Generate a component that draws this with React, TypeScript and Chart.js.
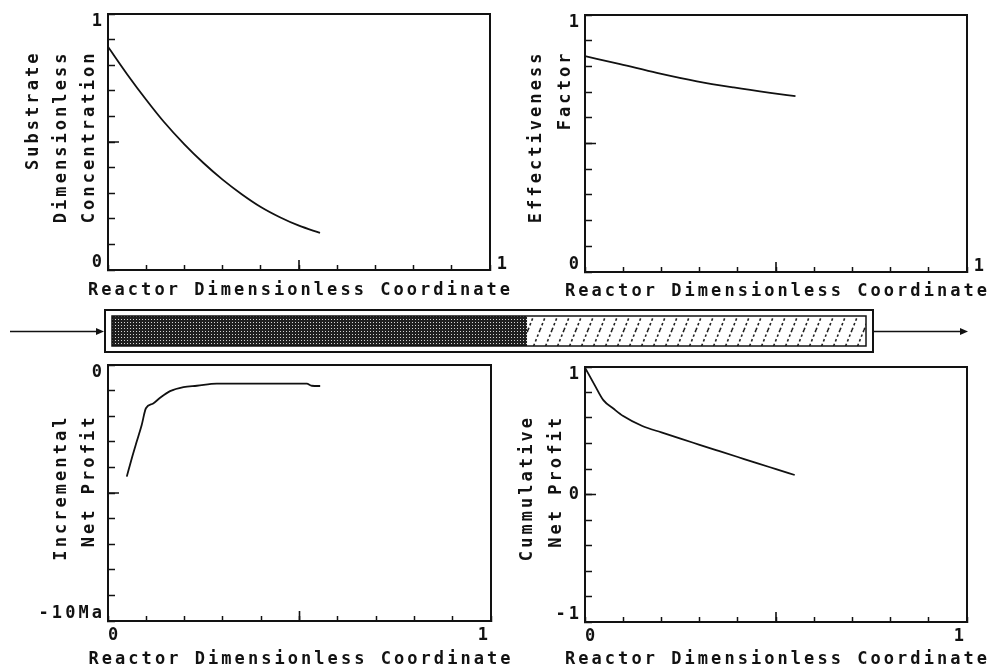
import React, { useEffect, useRef } from 'react';
import { Chart, registerables } from 'chart.js';

Chart.register(...registerables);

// ---------------- data ----------------
const xAxisTitle = 'Reactor Dimensionless Coordinate';
const xTicksTopValues = [1];
const xTicksTopLabels = ['1'];
const xTicksBottomValues = [0, 1];
const xTicksBottomLabels = ['0', '1'];

const substrateTitle = ['Substrate', 'Dimensionless', 'Concentration'];
const substrateX = [0, 0.05, 0.1, 0.145, 0.2, 0.25, 0.3, 0.35, 0.4, 0.45, 0.5, 0.555];
const substrateY = [0.872, 0.765, 0.665, 0.581, 0.491, 0.418, 0.353, 0.296, 0.246, 0.206, 0.173, 0.145];
const substrateYTickValues = [0, 1];
const substrateYTickLabels = ['0', '1'];

const effectTitle = ['Effectiveness', 'Factor'];
const effectX = [0, 0.092, 0.188, 0.293, 0.389, 0.485, 0.551];
const effectY = [0.84, 0.809, 0.775, 0.742, 0.718, 0.697, 0.684];
const effectYTickValues = [0, 1];
const effectYTickLabels = ['0', '1'];

const incTitle = ['Incremental', 'Net Profit'];
const incX = [0.049, 0.062, 0.075, 0.088, 0.099, 0.118, 0.136, 0.162, 0.197, 0.232, 0.284, 0.38, 0.519, 0.532, 0.554];
const incY = [-4.36, -3.65, -2.99, -2.34, -1.69, -1.5, -1.28, -1.02, -0.86, -0.81, -0.73, -0.73, -0.73, -0.81, -0.82];
const incYTickValues = [0, -10];
const incYTickLabels = ['0', '-10Ma'];

const cumTitle = ['Cummulative', 'Net Profit'];
const cumX = [0, 0.025, 0.048, 0.075, 0.1, 0.15, 0.2, 0.25, 0.3, 0.35, 0.4, 0.45, 0.5, 0.549];
const cumY = [0.995, 0.86, 0.74, 0.672, 0.615, 0.537, 0.487, 0.438, 0.39, 0.342, 0.294, 0.246, 0.199, 0.153];
const cumYTickValues = [1, 0, -1];
const cumYTickLabels = ['1', '0', '-1'];

const reactorSegments = ['Deactivated', 'Active'];
const reactorFractions = [0.55, 0.45];

// ---------------- style ----------------
const INK = '#121212';
const LINE = '#111111';
const FONT_FAMILY = '"DejaVu Sans Mono", "Liberation Mono", monospace';
const FONT_SIZE = 17;
const LS_PX = 3.05;
const LS = `${LS_PX}px`;

const near = (a: number, b: number) => Math.abs(a - b) < 1e-6;

const spacingPlugin = {
  id: 'spacing',
  beforeUpdate(chart: any) { chart.ctx.letterSpacing = LS; },
  beforeDraw(chart: any) { chart.ctx.letterSpacing = LS; },
};

const framePlugin = {
  id: 'frame',
  afterDraw(chart: any, _args: any, opts: any) {
    const { ctx, chartArea: a, scales } = chart;
    ctx.save();
    ctx.letterSpacing = LS;
    ctx.strokeStyle = INK;
    ctx.lineWidth = 2;
    ctx.strokeRect(a.left, a.top, a.right - a.left, a.bottom - a.top);
    ctx.lineWidth = 1.6;
    ctx.beginPath();
    const y = scales.y.getPixelForValue(opts.midY);
    ctx.moveTo(a.left, y);
    ctx.lineTo(a.left + 11, y);
    const x = scales.x.getPixelForValue(opts.midX);
    ctx.moveTo(x, a.bottom);
    ctx.lineTo(x, a.bottom - 10);
    ctx.stroke();
    ctx.font = `bold ${FONT_SIZE}px ${FONT_FAMILY}`;
    ctx.fillStyle = INK;
    ctx.textBaseline = 'middle';
    // x-axis title
    ctx.textAlign = 'center';
    ctx.fillText(opts.xTitle, (a.left + a.right) / 2 + LS_PX / 2, a.bottom + opts.xTitleDy);
    // y-axis title lines (rotated)
    ctx.textAlign = 'right';
    (opts.titleLines || []).forEach((t: string, i: number) => {
      ctx.save();
      ctx.translate(opts.titleXs[i], a.top + opts.titleTop);
      ctx.rotate(-Math.PI / 2);
      ctx.fillText(t, 0, 0);
      ctx.restore();
    });
    ctx.restore();
  },
};

function yLabeler(values: number[], labels: string[], min: number, max: number) {
  return (v: number) => {
    const i = values.findIndex((t) => near(t, v));
    if (i < 0) return '';
    const lab = labels[i];
    if (near(v, max)) return ['', lab];
    if (near(v, min)) return [lab, ''];
    return lab;
  };
}
function xLabeler(values: number[], labels: string[]) {
  return (v: number) => {
    const i = values.findIndex((t) => near(t, v));
    return i < 0 ? '' : labels[i];
  };
}

const PANELS = [
  {
    key: 'substrate', left: 0, top: 0, w: 520, h: 305,
    pad: { left: 0, top: 14, right: 30, bottom: 6 }, yW: 108, xH: 29,
    xs: substrateX, ys: substrateY, yMin: 0, yMax: 1, yStep: 0.1, midY: 0.5,
    yTickValues: substrateYTickValues, yTickLabels: substrateYTickLabels,
    xTickValues: xTicksTopValues, xTickLabels: xTicksTopLabels,
    xMirror: true, xTickPad: -3.5, xLabelOffset: 13.5, xAlign: 'center', xTitleDy: 21,
    title: substrateTitle, titleXs: [34, 62, 90], titleTop: 36.5,
  },
  {
    key: 'effect', left: 500, top: 0, w: 489, h: 305,
    pad: { left: 0, top: 15, right: 22, bottom: 5 }, yW: 85, xH: 28,
    xs: effectX, ys: effectY, yMin: 0, yMax: 1, yStep: 0.1, midY: 0.5,
    yTickValues: effectYTickValues, yTickLabels: effectYTickLabels,
    xTickValues: xTicksTopValues, xTickLabels: xTicksTopLabels,
    xMirror: true, xTickPad: -3.5, xLabelOffset: 13.5, xAlign: 'center', xTitleDy: 20,
    title: effectTitle, titleXs: [37, 66], titleTop: 35.5,
  },
  {
    key: 'inc', left: 0, top: 360, w: 520, h: 309,
    pad: { left: 0, top: 5, right: 29, bottom: 1 }, yW: 108, xH: 47,
    xs: incX, ys: incY, yMin: -10, yMax: 0, yStep: 1, midY: -5,
    yTickValues: incYTickValues, yTickLabels: incYTickLabels,
    xTickValues: xTicksBottomValues, xTickLabels: xTicksBottomLabels,
    xMirror: false, xTickPad: 11.5, xLabelOffset: 0, xAlign: 'inner', xTitleDy: 39,
    title: incTitle, titleXs: [62, 90], titleTop: 49.5,
  },
  {
    key: 'cum', left: 500, top: 360, w: 489, h: 309,
    pad: { left: 0, top: 7, right: 22, bottom: 1 }, yW: 85, xH: 46,
    xs: cumX, ys: cumY, yMin: -1, yMax: 1, yStep: 0.2, midY: 0,
    yTickValues: cumYTickValues, yTickLabels: cumYTickLabels,
    xTickValues: xTicksBottomValues, xTickLabels: xTicksBottomLabels,
    xMirror: false, xTickPad: 11.5, xLabelOffset: 0, xAlign: 'inner', xTitleDy: 38,
    title: cumTitle, titleXs: [28, 57], titleTop: 48,
  },
];

function makePanelConfig(p: any): any {
  const tickFont = { family: FONT_FAMILY, size: FONT_SIZE, weight: 'bold', lineHeight: 1 };
  return {
    type: 'line',
    data: {
      datasets: [
        {
          data: p.xs.map((x: number, i: number) => ({ x, y: p.ys[i] })),
          borderColor: LINE,
          borderWidth: 1.8,
          pointRadius: 0,
          fill: false,
          cubicInterpolationMode: 'monotone',
        },
      ],
    },
    options: {
      responsive: false,
      animation: false,
      devicePixelRatio: 1,
      events: [],
      layout: { padding: p.pad },
      plugins: {
        legend: { display: false },
        tooltip: { enabled: false },
        frame: {
          midX: 0.5, midY: p.midY, titleLines: p.title, titleXs: p.titleXs, titleTop: p.titleTop,
          xTitle: xAxisTitle, xTitleDy: p.xTitleDy,
        },
      },
      scales: {
        x: {
          type: 'linear', min: 0, max: 1, position: 'bottom',
          ticks: {
            stepSize: 0.1, autoSkip: false, maxRotation: 0, minRotation: 0, mirror: p.xMirror,
            color: INK, font: tickFont, padding: p.xTickPad, labelOffset: p.xLabelOffset,
            align: p.xAlign, callback: xLabeler(p.xTickValues, p.xTickLabels),
          },
          grid: { display: true, drawOnChartArea: false, drawTicks: true, tickLength: -5, tickColor: INK, tickWidth: 1.5, color: INK },
          border: { display: true, color: INK, width: 2 },
          afterFit: (s: any) => { s.height = p.xH; s.paddingLeft = 0; s.paddingRight = 0; },
        },
        y: {
          type: 'linear', min: p.yMin, max: p.yMax, position: 'left',
          ticks: {
            stepSize: p.yStep, autoSkip: false, color: INK, padding: 10,
            font: { family: FONT_FAMILY, size: FONT_SIZE, weight: 'bold', lineHeight: 0.85 },
            callback: yLabeler(p.yTickValues, p.yTickLabels, p.yMin, p.yMax),
          },
          grid: { display: true, drawOnChartArea: false, drawTicks: true, tickLength: -7, tickColor: INK, tickWidth: 1.5, color: INK },
          border: { display: true, color: INK, width: 2 },
          afterFit: (s: any) => { s.width = p.yW; s.paddingTop = 0; s.paddingBottom = 0; },
        },
      },
    },
    plugins: [spacingPlugin, framePlugin],
  };
}

function dotPattern(ctx: CanvasRenderingContext2D) {
  const c = document.createElement('canvas');
  c.width = 3; c.height = 3;
  const g = c.getContext('2d')!;
  g.fillStyle = '#1f1f1f';
  g.fillRect(0, 0, 3, 3);
  g.fillStyle = '#d4d4d4';
  g.fillRect(1, 1, 1, 1);
  return ctx.createPattern(c, 'repeat');
}

function hatchPattern(ctx: CanvasRenderingContext2D) {
  const w = 12, h = 30;
  const c = document.createElement('canvas');
  c.width = w; c.height = h;
  const g = c.getContext('2d')!;
  g.fillStyle = '#ffffff';
  g.fillRect(0, 0, w, h);
  g.strokeStyle = '#222222';
  g.lineWidth = 1.6;
  g.setLineDash([2.5, 2.5]);
  g.beginPath();
  for (const dx of [-w, 0, w]) {
    g.moveTo(dx, h);
    g.lineTo(dx + w, 0);
  }
  g.stroke();
  return ctx.createPattern(c, 'repeat');
}

const reactorFrame = {
  id: 'reactorFrame',
  afterDraw(chart: any) {
    const { ctx, chartArea: a } = chart;
    ctx.save();
    ctx.strokeStyle = INK;
    ctx.fillStyle = INK;
    ctx.lineWidth = 1.5;
    ctx.strokeRect(a.left, a.top, a.right - a.left, a.bottom - a.top);
    const ox = 7, oy = 6;
    const L = a.left - ox, R = a.right + ox;
    ctx.lineWidth = 2;
    ctx.strokeRect(L, a.top - oy, R - L, a.bottom - a.top + 2 * oy);
    const my = Math.round((a.top + a.bottom) / 2) + 0.5;
    ctx.lineWidth = 1.5;
    ctx.beginPath();
    ctx.moveTo(10, my); ctx.lineTo(L - 6, my);
    ctx.moveTo(R, my); ctx.lineTo(R + 89, my);
    ctx.stroke();
    const head = (tip: number) => {
      ctx.beginPath();
      ctx.moveTo(tip, my);
      ctx.lineTo(tip - 8, my - 3.5);
      ctx.lineTo(tip - 8, my + 3.5);
      ctx.closePath();
      ctx.fill();
    };
    head(L - 1);
    head(R + 95);
    ctx.restore();
  },
};

function makeReactorConfig(canvas: HTMLCanvasElement): any {
  const ctx = canvas.getContext('2d')!;
  const fills = [dotPattern(ctx), hatchPattern(ctx)];
  return {
    type: 'bar',
    data: {
      labels: ['Reactor'],
      datasets: reactorSegments.map((name, i) => ({
        label: name,
        data: [reactorFractions[i]],
        backgroundColor: fills[i],
        borderWidth: 0,
        barPercentage: 1,
        categoryPercentage: 1,
      })),
    },
    options: {
      indexAxis: 'y',
      responsive: false,
      animation: false,
      devicePixelRatio: 1,
      events: [],
      layout: { padding: { left: 112, right: 123, top: 16, bottom: 16 } },
      plugins: { legend: { display: false }, tooltip: { enabled: false } },
      scales: {
        x: { stacked: true, min: 0, max: 1, display: false },
        y: { stacked: true, display: false },
      },
    },
    plugins: [reactorFrame],
  };
}

export default function App() {
  const r0 = useRef<HTMLCanvasElement>(null);
  const r1 = useRef<HTMLCanvasElement>(null);
  const r2 = useRef<HTMLCanvasElement>(null);
  const r3 = useRef<HTMLCanvasElement>(null);
  const rr = useRef<HTMLCanvasElement>(null);
  const refs = [r0, r1, r2, r3];

  useEffect(() => {
    const charts: Chart[] = [];
    PANELS.forEach((p, i) => {
      charts.push(new Chart(refs[i].current!, makePanelConfig(p)));
    });
    charts.push(new Chart(rr.current!, makeReactorConfig(rr.current!)));
    return () => charts.forEach((c) => c.destroy());
  }, []);

  return (
    <div style={{ position: 'absolute', left: 0, top: 0, width: 989, height: 669, background: '#ffffff', overflow: 'hidden' }}>
      {PANELS.map((p, i) => (
        <canvas
          key={p.key}
          ref={refs[i]}
          width={p.w}
          height={p.h}
          style={{ position: 'absolute', left: p.left, top: p.top, width: p.w, height: p.h }}
        />
      ))}
      <canvas ref={rr} width={989} height={62} style={{ position: 'absolute', left: 0, top: 300, width: 989, height: 62 }} />
    </div>
  );
}
